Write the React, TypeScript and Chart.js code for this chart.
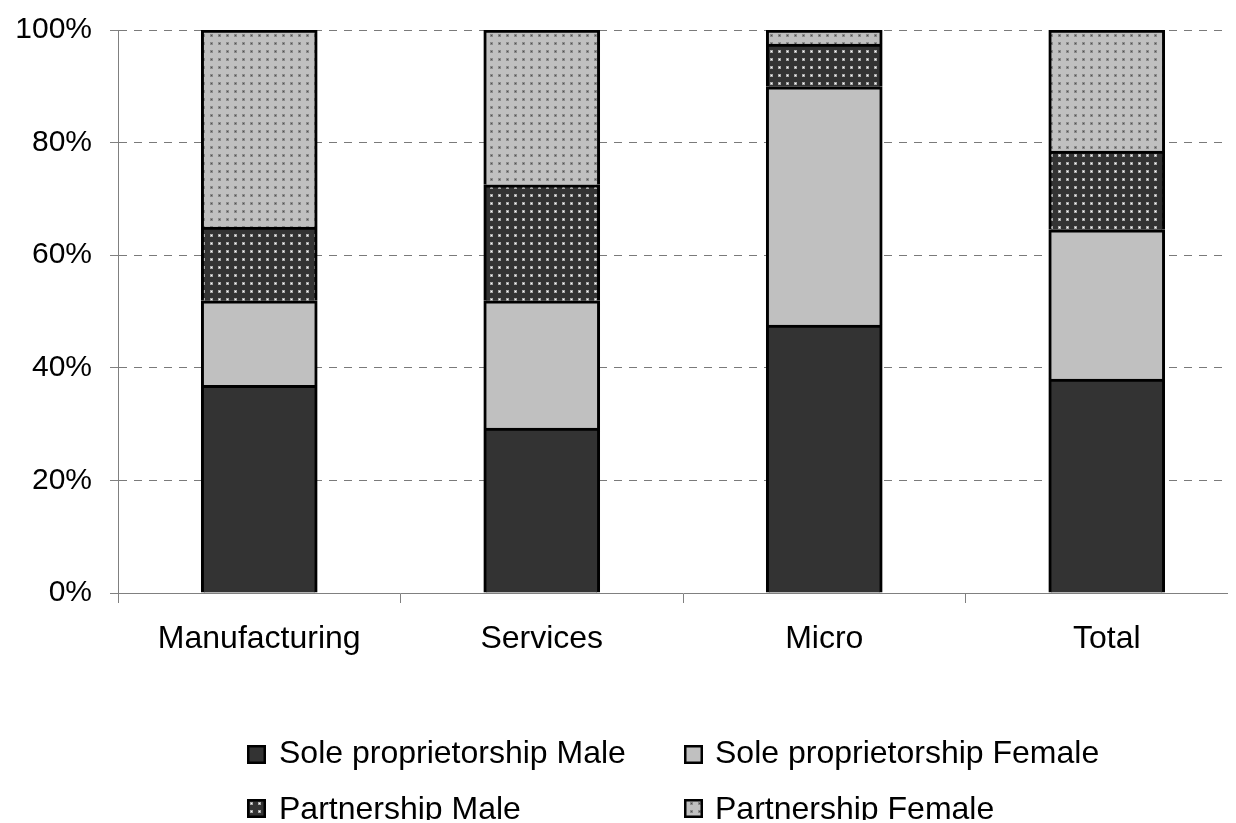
import React, { useEffect, useRef } from "react";
import { Chart, registerables } from "chart.js";

Chart.register(...registerables);

const categories = ["Manufacturing", "Services", "Micro", "Total"];
const soleMale = [36.9, 29.3, 47.6, 38.0];
const soleFemale = [15.0, 22.6, 42.3, 26.5];
const partnershipMale = [13.1, 20.6, 7.6, 14.0];
const partnershipFemale = [35.0, 27.5, 2.5, 21.5];
const seriesLabels = [
  "Sole proprietorship Male",
  "Sole proprietorship Female",
  "Partnership Male",
  "Partnership Female",
];
const yTicks = [0, 20, 40, 60, 80, 100];

const FONT = "'Liberation Sans', Arial, sans-serif";

function dotPattern(ctx: CanvasRenderingContext2D, bg: string, dot: string, halo: string) {
  const tile = document.createElement("canvas");
  tile.width = 8;
  tile.height = 8;
  const t = tile.getContext("2d")!;
  t.fillStyle = bg;
  t.fillRect(0, 0, 8, 8);
  t.fillStyle = halo;
  t.fillRect(2, 2, 3, 3);
  t.fillStyle = dot;
  t.fillRect(3, 3, 1, 1);
  return ctx.createPattern(tile, "repeat")!;
}

export default function App() {
  const canvasRef = useRef<HTMLCanvasElement | null>(null);

  useEffect(() => {
    const canvas = canvasRef.current!;
    const ctx = canvas.getContext("2d")!;
    const darkDots = dotPattern(ctx, "#333333", "#ffffff", "#a8a8a8");
    const lightDots = dotPattern(ctx, "#c0c0c0", "#505050", "#8c8c8c");
    const fills: (string | CanvasPattern)[] = ["#333333", "#c0c0c0", darkDots, lightDots];
    const values = [soleMale, soleFemale, partnershipMale, partnershipFemale];

    // two-column legend below the plot
    const legendPlugin = {
      id: "gridLegend",
      afterDraw(chart: Chart) {
        const c = chart.ctx;
        const cols = [
          { box: 239, text: 271 },
          { box: 676, text: 707 },
        ];
        const rows = [
          { box: 737, base: 755 },
          { box: 791, base: 811 },
        ];
        c.save();
        c.font = `32px ${FONT}`;
        c.textBaseline = "alphabetic";
        c.textAlign = "left";
        chart.data.datasets.forEach((ds, i) => {
          const col = cols[i % 2];
          const row = rows[Math.floor(i / 2)];
          c.fillStyle = ds.backgroundColor as any;
          c.fillRect(col.box, row.box, 19, 19);
          c.lineWidth = 2.5;
          c.strokeStyle = "#000000";
          c.strokeRect(col.box + 1.25, row.box + 1.25, 16.5, 16.5);
          c.fillStyle = "#000000";
          c.fillText(String(ds.label), col.text, row.base);
        });
        c.restore();
      },
    };

    const chart = new Chart(canvas, {
      type: "bar",
      data: {
        labels: categories,
        datasets: values.map((v, i) => ({
          label: seriesLabels[i],
          data: v,
          backgroundColor: fills[i] as any,
          borderColor: "#000000",
          borderWidth: 3,
          barThickness: 116,
        })),
      },
      options: {
        responsive: false,
        animation: false,
        devicePixelRatio: 1,
        layout: { padding: { top: 22, bottom: 147, left: 0, right: 0 } },
        plugins: {
          legend: { display: false },
          tooltip: { enabled: false },
        },
        scales: {
          x: {
            stacked: true,
            offset: true,
            grid: {
              display: true,
              offset: true,
              drawOnChartArea: false,
              drawTicks: true,
              tickLength: 10,
              tickColor: "#808080",
              color: "#808080",
            },
            border: { display: true, color: "#808080", width: 1 },
            ticks: {
              color: "#000000",
              font: { family: FONT, size: 32 },
              padding: 17,
              maxRotation: 0,
              autoSkip: false,
            },
            afterFit(scale: any) {
              scale.height = 80;
              scale.paddingLeft = 0;
              scale.paddingRight = 0;
            },
          },
          y: {
            stacked: true,
            min: 0,
            max: 100,
            afterBuildTicks(scale: any) {
              scale.ticks = yTicks.map((v) => ({ value: v }));
            },
            grid: {
              color: "#7a7a7a",
              lineWidth: 1,
              drawTicks: true,
              tickLength: 8,
              tickColor: "#808080",
              tickBorderDash: [],
            },
            border: { display: true, color: "#808080", width: 1, dash: [8, 7] },
            ticks: {
              color: "#000000",
              font: { family: FONT, size: 30 },
              padding: 18,
              callback: (v: any) => `${v}%`,
            },
            afterFit(scale: any) {
              scale.width = 110;
              scale.paddingTop = 0;
              scale.paddingBottom = 0;
            },
          },
        },
      },
      plugins: [legendPlugin],
    });

    return () => chart.destroy();
  }, []);

  return (
    <div style={{ width: 1228, height: 812, overflow: "hidden" }}>
      <canvas
        ref={canvasRef}
        width={1240}
        height={812}
        style={{ width: 1240, height: 812, display: "block" }}
      />
    </div>
  );
}
